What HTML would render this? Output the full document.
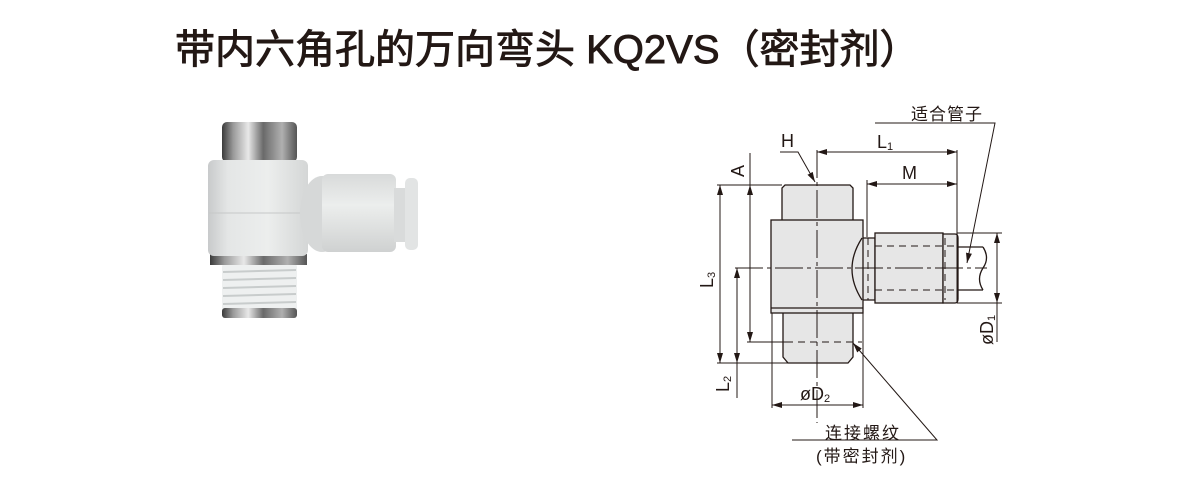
<!DOCTYPE html>
<html><head><meta charset="utf-8"><style>
html,body{margin:0;padding:0;background:#fff;}
body{width:1200px;height:500px;overflow:hidden;position:relative;}
.t{position:absolute;left:175px;top:26px;font-family:"Liberation Sans","Noto Sans CJK SC",sans-serif;font-size:40px;color:#231815;white-space:nowrap;line-height:48px;-webkit-text-stroke:0.9px #231815;}
svg{position:absolute;left:0;top:0;}
</style></head><body>
<div class="t">带内六角孔的万向弯头 KQ2VS（密封剂）</div>
<svg width="1200" height="500" viewBox="0 0 1200 500">
<defs>
<linearGradient id="met" x1="0" x2="1" y1="0" y2="0">
<stop offset="0" stop-color="#3a3a3a"/><stop offset="0.15" stop-color="#9a9a9a"/><stop offset="0.35" stop-color="#e8e8e8"/><stop offset="0.55" stop-color="#6a6a6a"/><stop offset="0.8" stop-color="#b0b0b0"/><stop offset="1" stop-color="#555"/>
</linearGradient>
<linearGradient id="wh" x1="0" x2="1" y1="0" y2="0">
<stop offset="0" stop-color="#c8cacb"/><stop offset="0.2" stop-color="#e4e6e6"/><stop offset="0.6" stop-color="#eceeed"/><stop offset="1" stop-color="#d4d6d6"/>
</linearGradient>
<linearGradient id="whv" x1="0" x2="0" y1="0" y2="1">
<stop offset="0" stop-color="#d8dada"/><stop offset="0.4" stop-color="#eceeed"/><stop offset="1" stop-color="#cfd1d1"/>
</linearGradient>
<marker id="ar" viewBox="0 0 10 10" refX="10" refY="5" markerWidth="10" markerHeight="10" markerUnits="userSpaceOnUse" orient="auto-start-reverse"><path d="M0,2 L10,5 L0,8 z" fill="#231815"/></marker>
</defs>
<!-- photo -->
<rect x="222" y="122" width="75" height="40" rx="5" fill="url(#met)"/>
<rect x="222" y="263" width="75" height="54" rx="4" fill="#eef0f0"/>
<g stroke="#c8cccc" stroke-width="2">
<line x1="223" y1="272" x2="296" y2="270"/><line x1="223" y1="280" x2="296" y2="278"/><line x1="223" y1="288" x2="296" y2="286"/><line x1="223" y1="296" x2="296" y2="294"/><line x1="223" y1="304" x2="296" y2="302"/>
</g>
<rect x="222" y="308" width="75" height="10" rx="3" fill="url(#met)"/>
<rect x="210" y="254" width="97" height="11" fill="url(#met)"/>
<rect x="208" y="160" width="100" height="96" rx="6" fill="url(#wh)"/>
<line x1="209" y1="213" x2="307" y2="213" stroke="#c6c8c8"/>
<ellipse cx="322" cy="214" rx="22" ry="38" fill="#d6d8d8"/>
<rect x="322" y="174" width="74" height="78" rx="6" fill="url(#whv)"/>
<rect x="394" y="188" width="15" height="54" fill="#d9dbdb"/>
<rect x="405" y="178" width="13" height="72" rx="5" fill="#e2e4e4"/>
<!-- drawing -->
<g fill="#e6e6e6" stroke="#231815" stroke-width="1.3">
<path d="M782,220 L782,188 L785,185 L850,185 L853,188 L853,220"/>
<path d="M783,313 L783,357 L788,363 L848,363 L853,357 L853,313"/>
<path d="M863,238 L875,238 L875,300 L863,300 Q843,269 863,238 Z"/>
<rect x="771" y="220" width="92" height="93"/>
<line x1="771" y1="308" x2="863" y2="308"/>
<rect x="875" y="233" width="68" height="70"/>
<rect x="957" y="247" width="26" height="43" fill="#fff" stroke="none"/>
<line x1="957" y1="247" x2="983" y2="247"/><line x1="957" y1="290" x2="983" y2="290"/>
<path d="M983,247 Q990,258 983,268 Q976,279 983,290" fill="none"/>
<path d="M943,234 L955,234 Q958,234 958,238 L958,299 Q958,303 955,303 L943,303 Z"/>
<path d="M862,238 Q842,269 862,300" fill="none"/>
</g>
<g stroke="#231815" stroke-width="1" fill="none" stroke-dasharray="7,5">
<line x1="875" y1="246" x2="957" y2="246"/><line x1="875" y1="290" x2="957" y2="290"/>
<line x1="868" y1="238" x2="868" y2="300"/>
<line x1="786" y1="342" x2="862" y2="342"/>
<line x1="945" y1="238" x2="945" y2="300"/>
</g>
<g stroke="#231815" stroke-width="1" fill="none">
<line x1="817" y1="150" x2="817" y2="423" stroke-dasharray="28,4,4,4"/>
<line x1="735" y1="268" x2="987" y2="268" stroke-dasharray="28,4,4,4"/>
<line x1="717" y1="185" x2="782" y2="185"/>
<line x1="747" y1="342" x2="786" y2="342"/>
<line x1="717" y1="363" x2="795" y2="363"/>
<line x1="957" y1="150" x2="957" y2="303"/>
<line x1="867" y1="180" x2="867" y2="237"/>
<line x1="772" y1="313" x2="772" y2="408"/>
<line x1="863" y1="313" x2="863" y2="408"/>
<line x1="957" y1="233" x2="1002" y2="233"/>
<line x1="957" y1="303" x2="1002" y2="303"/>
<line x1="817" y1="152" x2="957" y2="152" marker-start="url(#ar)" marker-end="url(#ar)"/>
<line x1="867" y1="184" x2="957" y2="184" marker-start="url(#ar)" marker-end="url(#ar)"/>
<line x1="750" y1="153" x2="750" y2="185"/>
<line x1="750" y1="185" x2="750" y2="342" marker-start="url(#ar)" marker-end="url(#ar)"/>
<line x1="720" y1="185" x2="720" y2="363" marker-start="url(#ar)" marker-end="url(#ar)"/>
<line x1="737" y1="268" x2="737" y2="363" marker-start="url(#ar)" marker-end="url(#ar)"/>
<line x1="737" y1="363" x2="737" y2="398"/>
<line x1="772" y1="405" x2="863" y2="405" marker-start="url(#ar)" marker-end="url(#ar)"/>
<line x1="997" y1="233" x2="997" y2="303" marker-start="url(#ar)" marker-end="url(#ar)"/>
<line x1="997" y1="303" x2="997" y2="342"/>
<polyline points="780,152 798,152 815,182" marker-end="url(#ar)"/>
<polyline points="875,123 995,123 967,263" marker-end="url(#ar)"/>
<polyline points="792,440 937,440 853,343" marker-end="url(#ar)"/>
</g>
<g font-family="Liberation Sans, Noto Sans CJK SC, sans-serif" fill="#231815" font-size="18">
<text x="781" y="147">H</text>
<text x="877" y="148">L<tspan font-size="11" dy="2">1</tspan></text>
<text x="902" y="179">M</text>
<text transform="translate(744,177) rotate(-90)">A</text>
<text transform="translate(713,288) rotate(-90)">L<tspan font-size="11" dy="2">3</tspan></text>
<text transform="translate(729,392) rotate(-90)">L<tspan font-size="11" dy="2">2</tspan></text>
<text x="800" y="400">øD<tspan font-size="11" dy="2">2</tspan></text>
<text transform="translate(993,345) rotate(-90)">øD<tspan font-size="11" dy="2">1</tspan></text>
<text x="911" y="120" font-size="17" letter-spacing="1">适合管子</text>
<text x="825" y="439" font-size="17" letter-spacing="2">连接螺纹</text>
<text x="816" y="462" font-size="17" letter-spacing="2">(带密封剂)</text>
</g>
</svg>
</body></html>
